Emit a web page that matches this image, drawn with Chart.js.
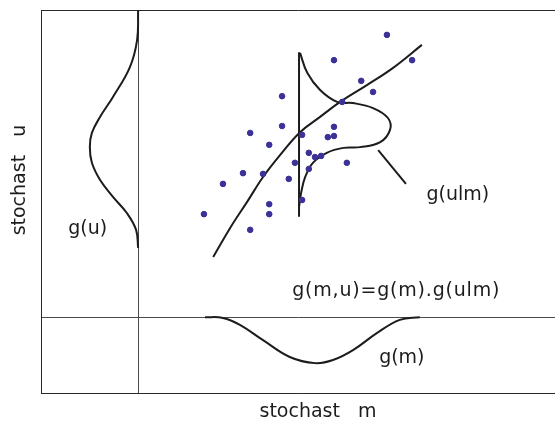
<!DOCTYPE html>
<html>
<head>
<meta charset="utf-8">
<script src="https://cdn.jsdelivr.net/npm/chart.js@4/dist/chart.umd.min.js"></script>
<style>
  body { margin: 0; background: #fff; }
  #wrap { width: 555px; height: 427px; }
</style>
</head>
<body>
<div id="wrap"><canvas id="chart" width="555" height="427"></canvas></div>
<script>
  // ---- data (m: 0..100 horizontal, u: 0..100 vertical) ----
  // scatter of samples
  const sampleM = [67.3, 57.0, 72.2, 62.3, 64.6, 46.9, 58.6, 46.9, 57.0, 40.7, 50.8, 57.0, 55.8, 44.4, 52.1,
                   53.3, 54.5, 49.4, 59.5, 39.3, 43.2, 52.1, 48.2, 35.4, 50.8, 44.4, 31.7, 44.4, 40.7];
  const sampleU = [93.5, 86.9, 86.9, 81.5, 78.6, 77.5, 76.0, 69.7, 69.5, 67.9, 67.4, 67.1, 66.8, 64.8, 62.7,
                   61.6, 61.9, 60.1, 60.1, 57.4, 57.2, 58.5, 55.9, 54.6, 50.4, 49.3, 46.7, 46.7, 42.6];

  // regression curve through the cloud
  const trendM = [33.5, 36.8, 40.1, 43.2, 46.5, 50.4, 54.3, 58.2, 63.4, 68.5, 74.1];
  const trendU = [35.5, 43.1, 49.9, 56.4, 62.1, 68.1, 72.1, 76.0, 80.4, 84.9, 90.9];

  // vertical cut at one m value
  const cutM = [50.2, 50.2];
  const cutU = [89.0, 46.0];

  // conditional density g(u|m) drawn on the cut
  const condM = [50.4, 51.8, 54.3, 57.6, 60.7, 64.6, 67.5, 67.9, 66.0, 62.1, 58.8, 55.6, 52.9, 51.4, 50.6, 50.2];
  const condU = [88.8, 83.6, 79.1, 76.0, 75.7, 74.4, 71.8, 68.7, 65.5, 64.2, 64.0, 62.7, 60.1, 56.4, 52.2, 48.6];

  // pointer to the g(ulm) label
  const pointerM = [65.6, 71.0];
  const pointerU = [63.4, 54.6];

  // marginal density g(u) on the left strip
  const margUM = [18.9, 18.7, 17.3, 14.0, 11.5, 9.9, 9.5, 9.9, 11.5, 14.0, 16.7, 18.5, 18.9];
  const margUU = [100, 92.2, 85.1, 77.3, 72.1, 67.9, 64.2, 60.1, 55.6, 51.2, 47.0, 42.6, 37.9];

  // marginal density g(m) on the bottom strip
  const margMM = [31.9, 35.4, 38.7, 43.2, 48.4, 53.3, 56.8, 60.7, 65.4, 69.8, 73.7];
  const margMU = [19.8, 19.6, 17.8, 13.8, 9.4, 7.8, 8.6, 11.2, 15.7, 19.1, 19.8];

  // frame / separator lines
  const mGrid = [0, 18.9];
  const uGrid = [0, 19.6, 100];

  // labels
  const labelText = ['g(u)', 'g(m)', 'g(ulm)', 'g(m,u)=g(m).g(ulm)'];
  const labelM = [9.1, 70.2, 81.1, 69.1];
  const labelU = [42.8, 9.1, 51.7, 26.6];
  const labelSpacing = ['0px', '0px', '0px', '0.8px'];

  const xTitle = 'stochast   m';
  const yTitle = 'stochast   u';

  const FONT = '19px "DejaVu Sans", sans-serif';
  const INK = '#1c1c1c';

  function pts(xs, ys) {
    return xs.map((x, i) => ({ x: x, y: ys[i] }));
  }

  function curve(xs, ys, tension) {
    return {
      type: 'line',
      data: pts(xs, ys),
      borderColor: INK,
      borderWidth: 2,
      pointRadius: 0,
      tension: tension,
      fill: false
    };
  }

  // labels + axis titles
  const textPlugin = {
    id: 'texts',
    afterDatasetsDraw(chart) {
      const ctx = chart.ctx;
      const xs = chart.scales.x;
      const ys = chart.scales.y;
      const area = chart.chartArea;
      ctx.save();
      ctx.font = FONT;
      ctx.fillStyle = INK;
      ctx.textAlign = 'center';
      ctx.textBaseline = 'middle';
      labelText.forEach((t, i) => {
        ctx.letterSpacing = labelSpacing[i];
        ctx.fillText(t, xs.getPixelForValue(labelM[i]), ys.getPixelForValue(labelU[i]));
      });
      ctx.letterSpacing = '0px';
      // x title under the frame
      ctx.fillText(xTitle, xs.getPixelForValue(53.9), area.bottom + 19);
      // y title left of the frame
      ctx.translate(area.left - 21, ys.getPixelForValue(55.6));
      ctx.rotate(-Math.PI / 2);
      ctx.fillText(yTitle, 0, 0);
      ctx.restore();
    }
  };

  const gridColor = (c) => (c.tick && (c.tick.value === 18.9 || c.tick.value === 19.6)) ? '#4a4a4a' : '#2a2a2a';

  new Chart(document.getElementById('chart'), {
    type: 'scatter',
    data: {
      datasets: [
        {
          data: pts(sampleM, sampleU),
          backgroundColor: '#3b3197',
          borderColor: '#3b3197',
          pointRadius: 2.8,
          pointStyle: 'circle'
        },
        curve(trendM, trendU, 0.4),
        curve(cutM, cutU, 0),
        curve(condM, condU, 0.4),
        curve(pointerM, pointerU, 0),
        curve(margUM, margUU, 0.4),
        curve(margMM, margMU, 0.4)
      ]
    },
    options: {
      responsive: false,
      animation: false,
      layout: { autoPadding: false, padding: { left: 41, top: 10, right: 0, bottom: 34 } },
      plugins: {
        legend: { display: false },
        tooltip: { enabled: false }
      },
      scales: {
        x: {
          type: 'linear',
          min: 0,
          max: 100,
          afterBuildTicks: (s) => { s.ticks = mGrid.map(v => ({ value: v })); },
          ticks: { display: false },
          grid: { drawTicks: false, color: gridColor, lineWidth: 1 },
          border: { display: true, color: '#2a2a2a', width: 1 }
        },
        y: {
          type: 'linear',
          min: 0,
          max: 100,
          afterBuildTicks: (s) => { s.ticks = uGrid.map(v => ({ value: v })); },
          ticks: { display: false },
          grid: { drawTicks: false, color: gridColor, lineWidth: 1 },
          border: { display: true, color: '#2a2a2a', width: 1 }
        }
      }
    },
    plugins: [textPlugin]
  });
</script>
</body>
</html>
